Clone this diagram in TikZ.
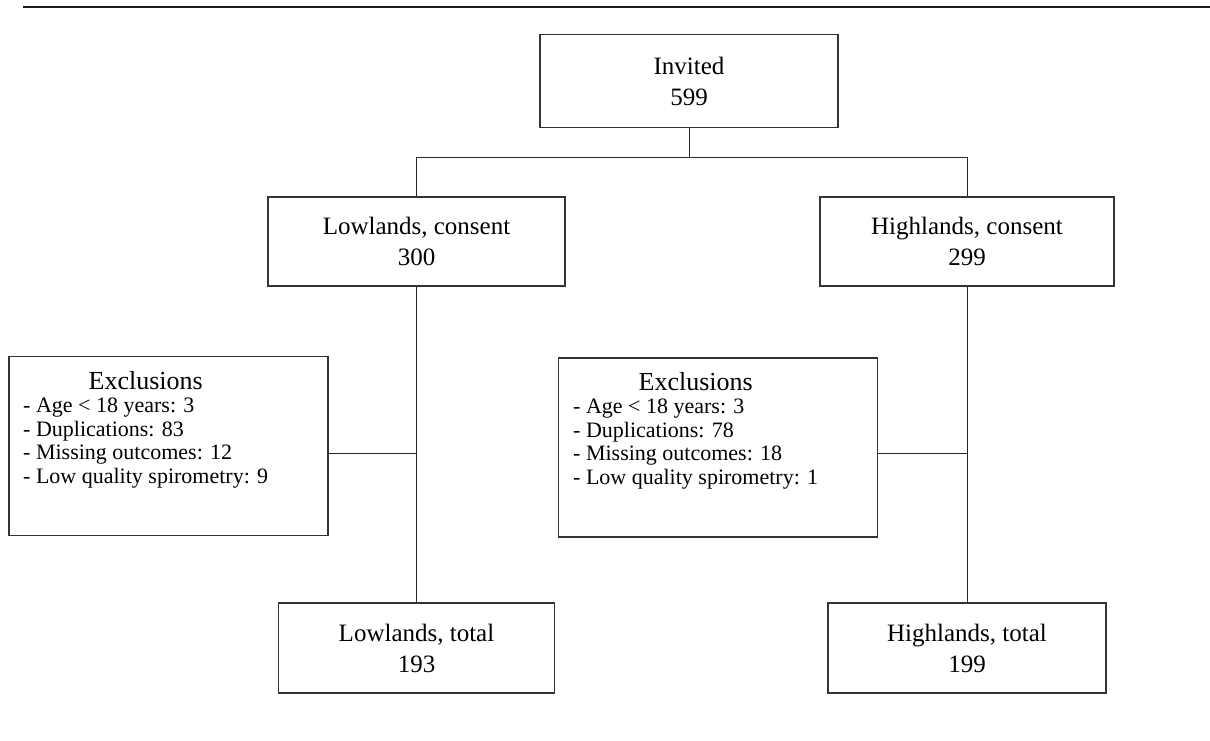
\documentclass[tikz,border=0pt]{standalone}
\usepackage{fontspec}
\setmainfont{Liberation Serif}
\begin{document}
\begin{tikzpicture}[x=1pt,y=-1pt,
  box/.style={draw=black!80, line width=1.1pt, inner sep=0pt, align=center,
    font=\fontsize{25}{31}\selectfont},
  exbox/.style={draw=black!80, line width=1.1pt, inner sep=0pt,
    minimum width=319pt, minimum height=179pt},
  listtext/.style={inner sep=0pt, anchor=north west, font=\fontsize{22}{23.5}\selectfont},
  link/.style={draw=black!85, line width=1pt},
  toprule/.style={draw=black!90, line width=1.8pt}]
\useasboundingbox (0,0) rectangle (1210,740);
% top rule
\coordinate (rl) at (23,7);
\coordinate (rr) at (1210,7);
\draw[toprule] (rl) -- (rr);
% boxes
\node[box, minimum width=298pt, minimum height=93pt] (inv) at (689,81) {Invited\\599};
\node[box, minimum width=297pt, minimum height=89pt] (lc) at (416.5,241.5) {Lowlands, consent\\300};
\node[box, minimum width=294pt, minimum height=89pt] (hc) at (967,241.5) {Highlands, consent\\299};
\node[box, minimum width=276pt, minimum height=90pt] (lt) at (416.5,648) {Lowlands, total\\193};
\node[box, minimum width=278pt, minimum height=90pt] (ht) at (967,648) {Highlands, total\\199};
\node[exbox] (exl) at (168.5,446) {};
\node[exbox] (exr) at (718,447.5) {};
\node[listtext] (exlt) at (23,371) {\begin{tabular}{@{}l@{}}
  \multicolumn{1}{@{}c@{}}{\fontsize{26}{26}\selectfont Exclusions}\\
  - Age < 18 years: 3\\
  - Duplications: 83\\
  - Missing outcomes: 12\\
  - Low quality spirometry: 9
  \end{tabular}};
\node[listtext] (exrt) at (573,372) {\begin{tabular}{@{}l@{}}
  \multicolumn{1}{@{}c@{}}{\fontsize{26}{26}\selectfont Exclusions}\\
  - Age < 18 years: 3\\
  - Duplications: 78\\
  - Missing outcomes: 18\\
  - Low quality spirometry: 1
  \end{tabular}};
% connectors
\coordinate (jm) at (689,157);
\coordinate (jl) at (416.5,157);
\coordinate (jr) at (967,157);
\draw[link] (inv.south) -- (jm);
\draw[link] (lc.north) -- (jl) -- (jr) -- (hc.north);
\draw[link] (lc.south) -- (lt.north);
\draw[link] (hc.south) -- (ht.north);
\coordinate (ml) at (416.5,453);
\coordinate (mr) at (967,453);
\draw[link] (exl.east |- ml) -- (ml);
\draw[link] (exr.east |- mr) -- (mr);
\end{tikzpicture}
\end{document}
